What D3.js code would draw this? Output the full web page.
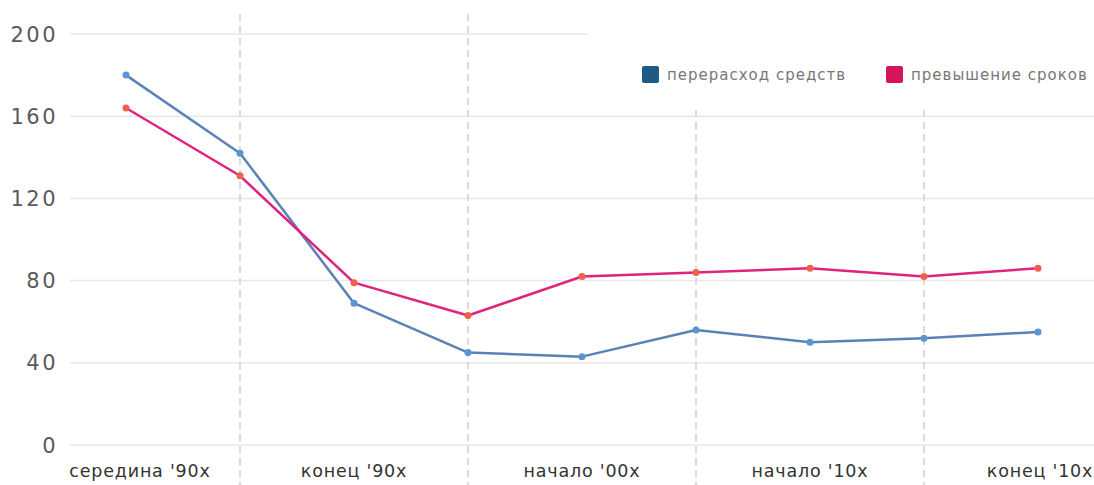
<!DOCTYPE html>
<html><head><meta charset="utf-8">
<script src="https://cdn.jsdelivr.net/npm/d3@7"></script>
<style>body{margin:0;background:#fff;} svg{display:block;}</style>
</head><body>
<svg id="c" width="1094" height="485"></svg>
<script>
const categories = ["середина '90х","","конец '90х","","начало '00х","","начало '10х","","конец '10х"];
const overrun = [180, 142, 69, 45, 43, 56, 50, 52, 55];
const delay = [164, 131, 79, 63, 82, 84, 86, 82, 86];
const yTicks = [0, 40, 80, 120, 160, 200];
const seriesNames = ["перерасход средств", "превышение сроков"];

const svg = d3.select("#c");
const W = 1094, H = 485;
const x = d3.scalePoint().domain(d3.range(categories.length)).range([126, 1038]);
const y = d3.scaleLinear().domain([0, 200]).range([445, 34]);

// gridlines
svg.append("g").selectAll("line").data(yTicks).join("line")
  .attr("x1", 70).attr("x2", W).attr("y1", d => y(d)).attr("y2", d => y(d))
  .attr("stroke", "#e8e8e8").attr("stroke-width", 1.5);

// dashed verticals at odd indices
const oddIdx = d3.range(categories.length).filter(i => i % 2 === 1);
svg.append("g").selectAll("line").data(oddIdx).join("line")
  .attr("x1", d => x(d)).attr("x2", d => x(d)).attr("y1", 14).attr("y2", H)
  .attr("stroke", "#cfcfcf").attr("stroke-width", 1.5).attr("stroke-dasharray", "7,5");

// legend background
svg.append("rect").attr("x", 588).attr("y", 0).attr("width", W - 588).attr("height", 110).attr("fill", "#fff");

// y labels
svg.append("g").selectAll("text").data(yTicks).join("text")
  .attr("x", 58).attr("y", d => y(d)).attr("dy", "0.36em").attr("text-anchor", "end")
  .attr("font-family", "'DejaVu Sans', sans-serif").attr("font-size", 21).attr("fill", "#5a5a5a")
  .attr("letter-spacing", 2.5)
  .text(d => d);

// x labels
svg.append("g").selectAll("text").data(categories.map((c, i) => ({c, i})).filter(d => d.c)).join("text")
  .attr("x", d => x(d.i) + (d.i === 0 ? 14 : 0) + (d.i === categories.length - 1 ? 2 : 0)).attr("y", 477)
  .attr("text-anchor", "middle")
  .attr("font-family", "'DejaVu Sans', sans-serif").attr("font-size", 17.5).attr("fill", "#333")
  .attr("letter-spacing", 0.8)
  .text(d => d.c);

const line = d3.line().x((d, i) => x(i)).y(d => y(d));
function drawSeries(data, lineColor, dotColor) {
  svg.append("path").datum(data).attr("d", line).attr("fill", "none")
    .attr("stroke", lineColor).attr("stroke-width", 2.5).attr("stroke-linejoin", "round");
  svg.append("g").selectAll("circle").data(data).join("circle")
    .attr("cx", (d, i) => x(i)).attr("cy", d => y(d)).attr("r", 3.5).attr("fill", dotColor);
}
drawSeries(overrun, "#5b82b8", "#5b94d0");
drawSeries(delay, "#e0237c", "#f0604e");

// legend
const legend = [
  {name: seriesNames[0], color: "#1f5a87", x: 642},
  {name: seriesNames[1], color: "#d8155c", x: 886}
];
const lg = svg.append("g").selectAll("g").data(legend).join("g")
  .attr("transform", d => `translate(${d.x},66)`);
lg.append("rect").attr("width", 17).attr("height", 17).attr("rx", 2).attr("fill", d => d.color);
lg.append("text").attr("x", 25).attr("y", 9).attr("dy", "0.35em")
  .attr("font-family", "'DejaVu Sans', sans-serif").attr("font-size", 15).attr("fill", "#777")
  .attr("letter-spacing", 1)
  .text(d => d.name);
</script>
</body></html>
